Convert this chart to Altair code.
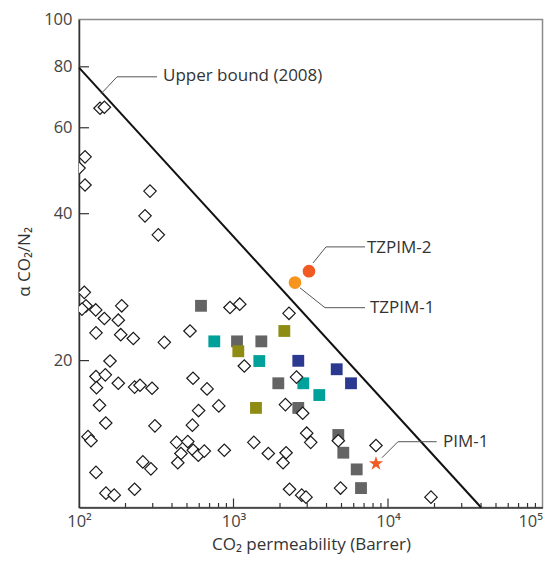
import altair as alt
import pandas as pd

# ---------------- data ----------------
# Open diamonds: other polymers (CO2 permeability in Barrer, CO2/N2 selectivity)
poly_x = [136.8, 146, 109.4, 100, 109.4, 288, 267.4, 326, 108.2, 111, 104.6, 128.3,
          145.9, 189, 179.6, 128.8, 186.2, 224.6, 356.6, 523, 949, 1097, 1175, 2287,
          158.8, 128.8, 148, 129.8, 179.6, 229, 248.2, 297, 547, 674, 135.8, 594,
          803, 310, 542, 149, 114.4, 119.6, 428, 506, 457, 549, 592, 647,
          872, 1354, 1680, 259, 292, 436, 128.8, 149.4, 169, 229, 2557, 2168,
          2805, 2977, 3160, 2190, 2093, 4768, 8361, 4927, 2305, 2763, 2946, 18980]
poly_y = [65.8, 66.1, 52.3, 49.6, 45.8, 44.5, 39.6, 36.2, 27.6, 25.9, 25.5, 25.4,
          24.4, 25.9, 24.2, 22.8, 22.6, 22.2, 21.8, 23.0, 25.7, 26.1, 19.5, 25.0,
          19.96, 18.55, 18.7, 17.6, 17.97, 17.65, 17.8, 17.55, 18.4, 17.5, 16.2, 15.8,
          16.15, 14.7, 14.75, 14.9, 13.97, 13.7, 13.6, 13.65, 12.9, 13.1, 12.8, 13.05,
          13.1, 13.6, 12.9, 12.4, 12.0, 12.35, 11.8, 10.7, 10.6, 10.9, 18.5, 16.25,
          15.6, 14.2, 13.6, 12.95, 12.35, 13.7, 13.4, 10.96, 10.9, 10.6, 10.5, 10.5]

# Filled squares (four series)
gray_x = [616, 1054, 1514, 1950, 2626, 4768, 5137, 6272, 6688]
gray_y = [25.9, 21.9, 21.9, 17.97, 16.0, 14.08, 12.95, 11.97, 10.96]
teal_x = [751, 1469, 2830, 3592]
teal_y = [21.9, 19.96, 17.97, 17.0]
olive_x = [1074, 2133, 1398]
olive_y = [20.9, 23.0, 16.0]
navy_x = [2626, 4656, 5762]
navy_y = [19.98, 19.2, 17.97]

# TZPIM polymers and PIM-1
tz_names = ["TZPIM-1", "TZPIM-2"]
tz_x = [2500, 3080]
tz_y = [28.9, 30.5]
pim_x = [8360]
pim_y = [12.3]

# Robeson upper bound (2008)
bound_x = [100, 40070]
bound_y = [79.7, 10]

# Annotation labels and leader lines
label_text = ["Upper bound (2008)", "TZPIM-2", "TZPIM-1", "PIM-1"]
label_x = [349.8, 7311, 7646, 22700]
label_y = [76.6, 34.0, 25.67, 13.64]
leader_id = ["ub", "ub", "ub", "t2", "t2", "t2", "t1", "t1", "t1", "p", "p", "p"]
leader_x = [138.8, 176.2, 319.8, 3270, 3970, 7098, 2694, 3910, 7098, 9146, 11603, 20660]
leader_y = [70.4, 76.3, 76.3, 31.7, 34.2, 34.2, 28.19, 25.67, 25.67, 12.65, 13.64, 13.64]

# Axis ticks
x_major = [1000, 10000]
x_minor = [200, 300, 400, 500, 600, 700, 800, 900,
           2000, 3000, 4000, 5000, 6000, 7000, 8000, 9000,
           20000, 30000, 40000, 50000, 60000, 70000, 80000, 90000]
y_ticks = [20, 40, 60, 80]
x_labels = [100, 1000, 10000, 100000]
y_labels = [20, 40, 60, 80, 100]

# ---------------- chart ----------------
W, H = 463.5, 488
FONT = "Open Sans"
TXT = "#333333"

xs = alt.Scale(type="log", domain=[100, 100000])
ys = alt.Scale(type="log", domain=[10, 100])

x_axis = alt.Axis(values=x_labels, ticks=False, grid=False, labelFlush=False,
                  labelOverlap=False, labelPadding=6, labelFontSize=16.5,
                  labelColor="#444444", labelFont=FONT,
                  labelAlign={"condition": {"test": "datum.value > 50000", "value": "right"},
                              "value": "center"},
                  labelExpr="datum.value < 500 ? '10²' : datum.value < 5000 ? '10³' : datum.value < 50000 ? '10⁴' : '10⁵'",
                  title="CO₂ permeability (Barrer)", titleFontSize=17, titleFont=FONT,
                  titleFontWeight="normal", titleColor=TXT,
                  titleX=232, titleY=36.5, titleBaseline="middle", titleAlign="center")
y_axis = alt.Axis(values=y_labels, ticks=False, grid=False, labelFlush=False,
                  labelOverlap=False, labelPadding=7, labelFontSize=16.5,
                  labelColor="#444444", labelFont=FONT, format="d",
                  title="α CO₂/N₂", titleFontSize=17, titleFont=FONT,
                  titleFontWeight="normal", titleColor=TXT,
                  titleX=-55, titleY=242, titleAngle=-90, titleBaseline="middle",
                  titleAlign="center")

sq_df = pd.concat([
    pd.DataFrame({"x": gray_x, "y": gray_y, "s": "gray"}),
    pd.DataFrame({"x": olive_x, "y": olive_y, "s": "olive"}),
    pd.DataFrame({"x": teal_x, "y": teal_y, "s": "teal"}),
    pd.DataFrame({"x": navy_x, "y": navy_y, "s": "navy"}),
], ignore_index=True)
poly_df = pd.DataFrame({"x": poly_x, "y": poly_y})
tz_df = pd.DataFrame({"name": tz_names, "x": tz_x, "y": tz_y})
pim_df = pd.DataFrame({"x": pim_x, "y": pim_y})
bound_df = pd.DataFrame({"x": bound_x, "y": bound_y})
lab_df = pd.DataFrame({"t": label_text, "x": label_x, "y": label_y})
lead_df = pd.DataFrame({"id": leader_id, "x": leader_x, "y": leader_y,
                        "o": list(range(len(leader_x)))})
xmaj_df = pd.DataFrame({"v": x_major})
xmin_df = pd.DataFrame({"v": x_minor})
yt_df = pd.DataFrame({"v": y_ticks})

base_x = alt.X("x:Q", scale=xs, axis=x_axis)
base_y = alt.Y("y:Q", scale=ys, axis=y_axis)

squares = alt.Chart(sq_df).mark_point(shape="square", filled=True, size=140, opacity=1).encode(
    x=base_x, y=base_y,
    color=alt.Color("s:N", scale=alt.Scale(domain=["gray", "olive", "teal", "navy"],
                                           range=["#646464", "#8f8c13", "#00a19a", "#2b3990"]),
                    legend=None))

diamonds = alt.Chart(poly_df).mark_point(shape="diamond", filled=False, fill="white",
                                         fillOpacity=1, stroke="#1a1a1a", strokeWidth=1.2,
                                         size=155, opacity=1, clip=True).encode(
    x=alt.X("x:Q", scale=xs), y=alt.Y("y:Q", scale=ys))

bound = alt.Chart(bound_df).mark_line(color="#111111", strokeWidth=2).encode(
    x=alt.X("x:Q", scale=xs), y=alt.Y("y:Q", scale=ys))

tz = alt.Chart(tz_df).mark_point(shape="circle", filled=True, size=160, opacity=1).encode(
    x=alt.X("x:Q", scale=xs), y=alt.Y("y:Q", scale=ys),
    fill=alt.Fill("name:N", scale=alt.Scale(domain=tz_names, range=["#f7941d", "#f15a24"]),
                  legend=None))

star_path = ("M0,-1L0.2245,-0.309L0.9511,-0.309L0.3633,0.118L0.5878,0.809L0,0.382"
             "L-0.5878,0.809L-0.3633,0.118L-0.9511,-0.309L-0.2245,-0.309Z")
pim = alt.Chart(pim_df).mark_point(shape=star_path, filled=True, size=230, color="#f15a24",
                                   opacity=1).encode(
    x=alt.X("x:Q", scale=xs), y=alt.Y("y:Q", scale=ys))

leaders = alt.Chart(lead_df).mark_line(color="#555555", strokeWidth=1).encode(
    x=alt.X("x:Q", scale=xs), y=alt.Y("y:Q", scale=ys), detail="id:N", order="o:Q")

labels = alt.Chart(lab_df).mark_text(align="left", baseline="middle", fontSize=17,
                                     font=FONT, color=TXT).encode(
    x=alt.X("x:Q", scale=xs), y=alt.Y("y:Q", scale=ys), text="t:N")

xmaj = alt.Chart(xmaj_df).mark_rule(color="#333333", strokeWidth=1.2).encode(
    x=alt.X("v:Q", scale=xs), y=alt.value(H), y2=alt.value(H - 9))
xmin = alt.Chart(xmin_df).mark_rule(color="#333333", strokeWidth=1.2).encode(
    x=alt.X("v:Q", scale=xs), y=alt.value(H), y2=alt.value(H - 4.5))
ytk = alt.Chart(yt_df).mark_rule(color="#333333", strokeWidth=1.2).encode(
    y=alt.Y("v:Q", scale=ys), x=alt.value(0), x2=alt.value(10))

chart = alt.layer(squares, diamonds, bound, tz, pim, leaders, labels, xmaj, xmin, ytk).resolve_scale(
    color="independent", fill="independent"
).properties(
    width=W, height=H,
    autosize=alt.AutoSizeParams(type="none"),
    padding={"left": 71, "top": 11.5, "right": 4.5, "bottom": 46.5},
).configure_view(
    stroke="#8a8a8a", strokeWidth=1.5
).configure_axis(
    domainColor="#333333", domainWidth=1.5
)

chart.save("out.html", embed_options={"renderer": "svg", "actions": False})
